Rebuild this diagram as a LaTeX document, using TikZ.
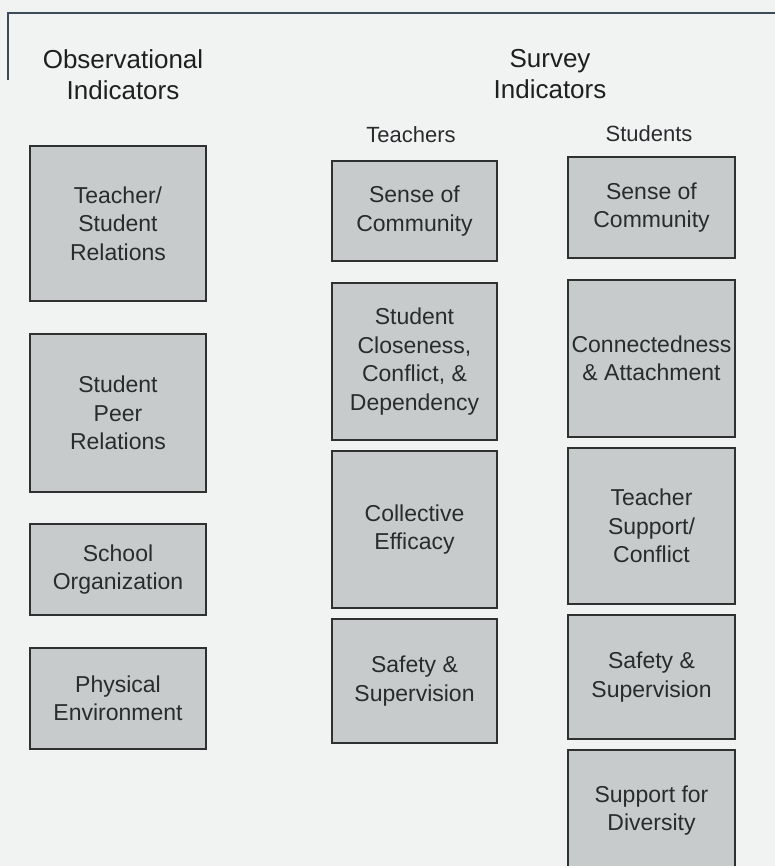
\documentclass[tikz,border=0pt]{standalone}
\usepackage{fontspec}
\setmainfont{Liberation Sans}
\definecolor{bg}{RGB}{241,243,243}
\definecolor{boxfill}{RGB}{200,203,203}
\definecolor{boxline}{RGB}{45,50,48}
\definecolor{txt}{RGB}{40,44,44}
\definecolor{frame}{RGB}{60,75,90}
\tikzset{
  box/.style={draw=boxline, line width=1.6pt, fill=boxfill, text=txt, align=center,
    inner sep=0pt, font=\fontsize{23}{28.5}\selectfont},
  header/.style={text=black!88, align=center, inner sep=0pt, font=\fontsize{26}{31}\selectfont},
  subhead/.style={text=txt, inner sep=0pt, font=\fontsize{22}{24}\selectfont},
}
\begin{document}
\begin{tikzpicture}[x=1pt,y=-1pt]
\useasboundingbox (0,0) rectangle (775,866);
\fill[bg] (0,0) rectangle (775,866);
\clip (0,0) rectangle (775,866);
% page frame lines
\coordinate (fa) at (8,80);
\coordinate (fb) at (8,13);
\coordinate (fc) at (775,13);
\draw[frame, line width=1.3pt] (fa) -- (fb) -- (fc);
% headers
\node[header] (obs) at (123,75) {Observational\\Indicators};
\node[header] (surv) at (550,74) {Survey\\Indicators};
\node[subhead, anchor=base] (teach) at (411,143) {Teachers};
\node[subhead, anchor=base] (stud) at (649,142) {Students};
% observational column
\node[box, minimum width=176pt, minimum height=155pt] (o1) at (118,223.5) {Teacher/\\Student\\Relations};
\node[box, minimum width=176pt, minimum height=158pt] (o2) at (118,413) {Student\\Peer\\Relations};
\node[box, minimum width=176pt, minimum height=91pt] (o3) at (118,569.5) {School\\Organization};
\node[box, minimum width=176pt, minimum height=101pt] (o4) at (118,698.5) {Physical\\Environment};
% teachers column
\node[box, minimum width=165pt, minimum height=100pt] (t1) at (414.5,211) {Sense of\\Community};
\node[box, minimum width=165pt, minimum height=157pt] (t2) at (414.5,361.5) {Student\\Closeness,\\Conflict, \&\\Dependency};
\node[box, minimum width=165pt, minimum height=157pt] (t3) at (414.5,529.5) {Collective\\Efficacy};
\node[box, minimum width=165pt, minimum height=124pt] (t4) at (414.5,681) {Safety \&\\Supervision};
% students column
\node[box, minimum width=167pt, minimum height=101pt] (s1) at (651.5,207.5) {Sense of\\Community};
\node[box, minimum width=167pt, minimum height=157pt] (s2) at (651.5,358.5) {Connectedness\\\& Attachment};
\node[box, minimum width=167pt, minimum height=156pt] (s3) at (651.5,526) {Teacher\\Support/\\Conflict};
\node[box, minimum width=167pt, minimum height=124pt] (s4) at (651.5,677) {Safety \&\\Supervision};
\node[box, minimum width=167pt, minimum height=150pt] (s5) at (651.5,825) {Support for\\Diversity\\[5pt]};
\end{tikzpicture}
\end{document}
